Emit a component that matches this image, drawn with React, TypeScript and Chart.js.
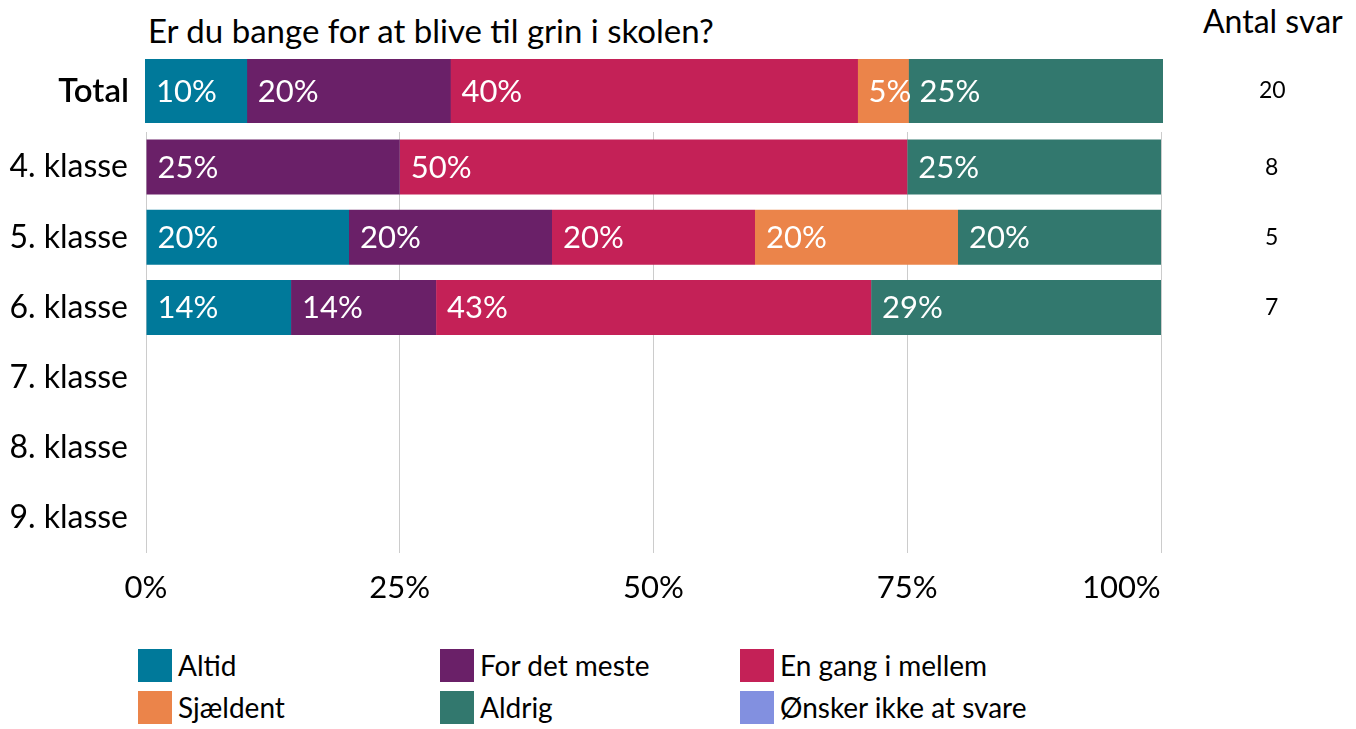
import React, { useEffect, useRef } from "react";
import { Chart, registerables } from "chart.js";

Chart.register(...registerables);

const titleText = "Er du bange for at blive til grin i skolen?";
const countHeader = "Antal svar";

const totalCategories = ["Total"];
const groupCategories = ["4. klasse", "5. klasse", "6. klasse", "7. klasse", "8. klasse", "9. klasse"];

const seriesNames = ["Altid", "For det meste", "En gang i mellem", "Sjældent", "Aldrig", "Ønsker ikke at svare"];
const seriesColors = ["#00799A", "#6A2068", "#C42157", "#EB844A", "#32786E", "#8290E0"];

// Total row, one value per series (percent)
const totalShares = [10, 20, 40, 5, 25, 0];

// Per grade, one array per series (percent)
const altid = [0, 20, 14.29, null, null, null];
const forDetMeste = [25, 20, 14.29, null, null, null];
const enGangIMellem = [50, 20, 42.86, null, null, null];
const sjaeldent = [0, 20, 0, null, null, null];
const aldrig = [25, 20, 28.57, null, null, null];
const onskerIkke = [0, 0, 0, null, null, null];

const totalCount = ["20"];
const groupCounts = ["8", "5", "7", "", "", ""];

const xTickValues = [0, 25, 50, 75, 100];

const FONT = "Lato";

const barLabels = {
  id: "barLabels",
  afterDatasetsDraw(chart: any) {
    const ctx = chart.ctx;
    ctx.save();
    ctx.font = `31px ${FONT}`;
    ctx.fillStyle = "#ffffff";
    ctx.textAlign = "left";
    ctx.textBaseline = "middle";
    chart.data.datasets.forEach((ds: any, i: number) => {
      const meta = chart.getDatasetMeta(i);
      meta.data.forEach((el: any, j: number) => {
        const v = ds.data[j];
        if (!v) return;
        const left = Math.min(el.x, el.base);
        ctx.fillText(Math.round(v) + "%", left + 11, el.y + 1);
      });
    });
    ctx.restore();
  },
};

const noPad = (s: any) => {
  s.paddingTop = 0;
  s.paddingBottom = 0;
  s.paddingLeft = 0;
  s.paddingRight = 0;
};

function ChartCanvas({ config, width, height, style }: any) {
  const ref = useRef<HTMLCanvasElement | null>(null);
  useEffect(() => {
    if (!ref.current) return;
    const chart = new Chart(ref.current, config());
    return () => chart.destroy();
  }, []);
  return <canvas ref={ref} width={width} height={height} style={{ position: "absolute", width, height, ...style }} />;
}

const topConfig = () => ({
  type: "bar",
  data: {
    labels: totalCategories,
    datasets: seriesNames.map((name, i) => ({
      label: name,
      data: [totalShares[i]],
      backgroundColor: seriesColors[i],
      borderWidth: 0,
      barPercentage: 1,
      categoryPercentage: 1,
    })),
  },
  options: {
    indexAxis: "y",
    animation: false,
    responsive: false,
    maintainAspectRatio: false,
    events: [],
    layout: { padding: 0 },
    plugins: { legend: { display: false }, tooltip: { enabled: false } },
    scales: {
      x: { stacked: true, min: 0, max: 100, display: false },
      y: {
        stacked: true,
        grid: { display: false, drawTicks: false },
        border: { display: false },
        ticks: { font: { family: FONT, size: 33, weight: 600 }, color: "#000", padding: 16 },
        afterFit: (s: any) => { s.width = 145; noPad(s); },
      },
      y2: {
        type: "category",
        labels: totalCount,
        position: "right",
        offset: true,
        grid: { display: false, drawTicks: false },
        border: { display: false },
        ticks: { font: { family: FONT, size: 23 }, color: "#000", padding: 96, crossAlign: "center" },
        afterFit: (s: any) => { s.width = 193; noPad(s); },
      },
    },
  },
  plugins: [barLabels],
});

const groupSeries = [altid, forDetMeste, enGangIMellem, sjaeldent, aldrig, onskerIkke];

const bottomConfig = () => ({
  type: "bar",
  data: {
    labels: groupCategories,
    datasets: seriesNames.map((name, i) => ({
      label: name,
      data: groupSeries[i],
      backgroundColor: seriesColors[i],
      borderWidth: 0,
      barPercentage: 0.784,
      categoryPercentage: 1,
    })),
  },
  options: {
    indexAxis: "y",
    animation: false,
    responsive: false,
    maintainAspectRatio: false,
    events: [],
    layout: { padding: 0 },
    plugins: { legend: { display: false }, tooltip: { enabled: false } },
    scales: {
      x: {
        stacked: true,
        min: 0,
        max: 100,
        afterBuildTicks: (s: any) => { s.ticks = xTickValues.map((v) => ({ value: v })); },
        grid: { color: "#cccccc", lineWidth: 1, drawTicks: false },
        border: { display: false },
        ticks: {
          font: { family: FONT, size: 31 },
          color: "#000",
          padding: 16,
          maxRotation: 0,
          callback: (v: any) => (v === 100 ? "100%" + "\u00A0".repeat(10) : v + "%"),
        },
        afterFit: (s: any) => { s.height = 60; noPad(s); },
      },
      y: {
        stacked: true,
        grid: { display: false, drawTicks: false },
        border: { display: false },
        ticks: { font: { family: FONT, size: 32 }, color: "#000", padding: 18 },
        afterFit: (s: any) => { s.width = 146; noPad(s); },
      },
      y2: {
        type: "category",
        labels: groupCounts,
        position: "right",
        offset: true,
        grid: { display: false, drawTicks: false },
        border: { display: false },
        ticks: { font: { family: FONT, size: 23 }, color: "#000", padding: 104, crossAlign: "center" },
        afterFit: (s: any) => { s.width = 195; noPad(s); },
      },
    },
  },
  plugins: [barLabels],
});

function Legend() {
  const cols = [138, 440, 740];
  const rows = [649, 691];
  return (
    <>
      {seriesNames.map((name, i) => {
        const left = cols[i % 3];
        const top = rows[Math.floor(i / 3)];
        return (
          <div key={name} style={{ position: "absolute", left, top, height: 33, display: "flex", alignItems: "center" }}>
            <div style={{ width: 34, height: 33, background: seriesColors[i] }} />
            <span style={{ marginLeft: 6, fontFamily: FONT, fontSize: 28, color: "#000", lineHeight: "33px", whiteSpace: "nowrap" }}>{name}</span>
          </div>
        );
      })}
    </>
  );
}

export default function App() {
  return (
    <div style={{ position: "fixed", left: 0, top: 0, width: 1356, height: 729, background: "#fff", overflow: "hidden" }}>
      <div style={{ position: "absolute", left: 148, top: 13, fontFamily: FONT, fontSize: 33, lineHeight: "34px", color: "#000", whiteSpace: "nowrap" }}>
        {titleText}
      </div>
      <div style={{ position: "absolute", left: 1203, top: 4, fontFamily: FONT, fontSize: 32, lineHeight: "34px", color: "#000", whiteSpace: "nowrap" }}>
        {countHeader}
      </div>
      <ChartCanvas config={topConfig} width={1356} height={64} style={{ left: 0, top: 59 }} />
      <ChartCanvas config={bottomConfig} width={1356} height={481} style={{ left: 0, top: 132 }} />
      <Legend />
    </div>
  );
}
